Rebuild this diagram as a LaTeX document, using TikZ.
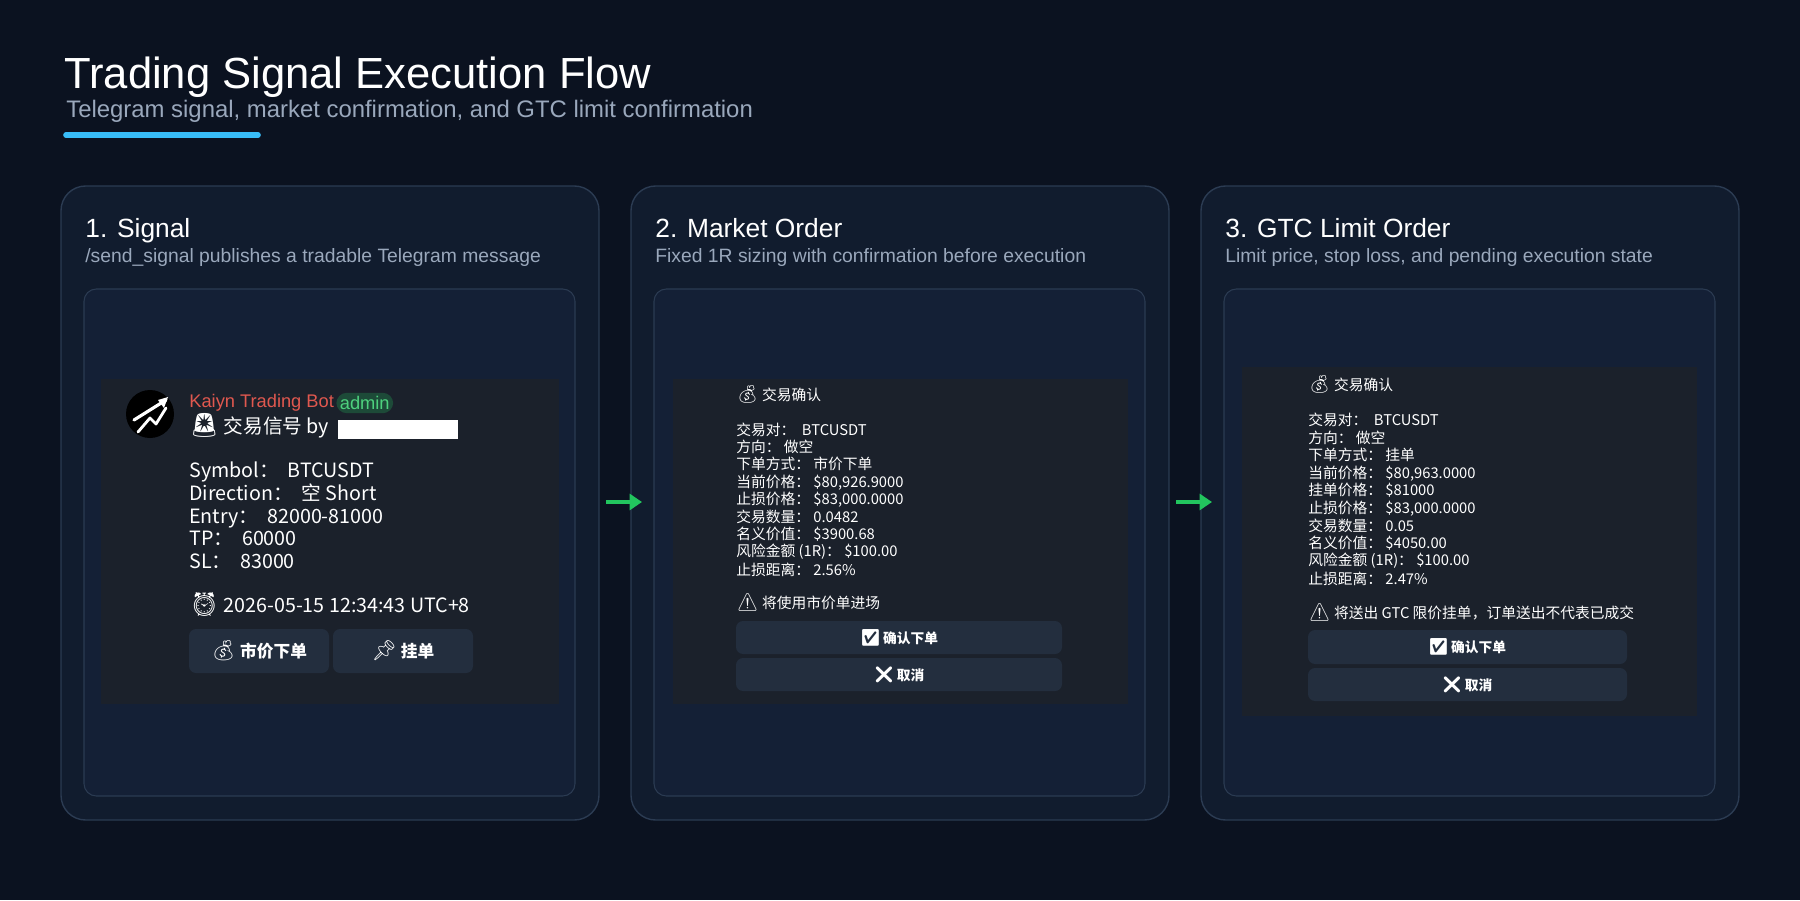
\documentclass[tikz,border=0pt]{standalone}
\usepackage{fontspec}
\setmainfont{Liberation Sans}
\newfontfamily\cjk{Noto Sans CJK SC}
\newfontfamily\emo{Noto Emoji}
\usetikzlibrary{arrows.meta}
\definecolor{bg}{HTML}{0B1220}
\definecolor{panel}{HTML}{111C2E}
\definecolor{pborder}{HTML}{2B3B52}
\definecolor{inner}{HTML}{142036}
\definecolor{msg}{HTML}{1B212B}
\definecolor{btn}{HTML}{232E3E}
\definecolor{subc}{HTML}{9AA8BC}
\definecolor{accent}{HTML}{38BDF8}
\definecolor{arr}{HTML}{22C55E}
\definecolor{botred}{HTML}{E0584F}
\newcommand{\fs}[1]{\fontsize{#1}{#1}\selectfont}
\newcommand{\emj}[1]{{\emo\fontsize{1.2em}{1em}\selectfont #1}}
\tikzset{
 panelbox/.style={draw=pborder,fill=panel,rounded corners=14pt,line width=0.8pt},
 innerbox/.style={draw=pborder,fill=inner,rounded corners=7pt,line width=0.6pt},
 msgbox/.style={fill=msg},
 btnbox/.style={fill=btn,rounded corners=4pt},
 ptitle/.style={anchor=base west,text=white,font=\fs{15pt},inner sep=0},
 psub/.style={anchor=base west,text=subc,font=\fs{11pt},inner sep=0},
 txtA/.style={anchor=base west,text=white,font=\cjk\fs{11.2pt},inner sep=0},
 txtB/.style={anchor=base west,text=white,font=\cjk\fs{8.4pt},inner sep=0},
 flow/.style={draw=arr,line width=2.2pt,-{Triangle[length=7pt,width=9pt]}},
}
\begin{document}
\begin{tikzpicture}[x=0.02cm,y=-0.02cm]
\fill[bg] (0,0) rectangle (1800,900);
\useasboundingbox (0,0) rectangle (1800,900);
\node[anchor=west,text=white,font=\fs{24.8pt},inner sep=0] (title) at (64,77) {Trading Signal Execution Flow};
\node[anchor=west,text=subc,font=\fs{13.6pt},inner sep=0] (sub) at (66,111) {Telegram signal, market confirmation, and GTC limit confirmation};
\draw[accent,line width=3.2pt,line cap=round] (66,135) -- (258,135);
% panels
\foreach \x/\n in {61/p1,631/p2,1201/p3}{
 \draw[panelbox] (\x,186) rectangle ++(538,634);
 \draw[innerbox] (\x+23,289) rectangle ++(491,507);
}
\node[ptitle] (t1) at (85,237) {1. Signal};
\node[psub] (s1) at (85,262) {/send\_signal publishes a tradable Telegram message};
\node[ptitle] (t2) at (655,237) {2. Market Order};
\node[psub] (s2) at (655,262) {Fixed 1R sizing with confirmation before execution};
\node[ptitle] (t3) at (1225,237) {3. GTC Limit Order};
\node[psub] (s3) at (1225,262) {Limit price, stop loss, and pending execution state};
% arrows
\coordinate (a1s) at (606,502); \coordinate (a1e) at (642,502);
\coordinate (a2s) at (1176,502); \coordinate (a2e) at (1212,502);
\draw[flow] (a1s) -- (a1e);
\draw[flow] (a2s) -- (a2e);
% message 1
\fill[msgbox] (101,379) rectangle (559,704);
\fill[black] (150,414) circle (24);
\draw[white,line width=1.6pt,line cap=round,line join=round] (138,432) -- (150,418) -- (156,424) -- (166,408);
\draw[white,line width=1.8pt,line cap=round] (134,420) -- (166,400);
\fill[white] (168,397) -- (158,400) -- (164,408) -- cycle;
\node[anchor=west,text=botred,font=\fs{10.4pt},inner sep=0] (bot) at (189,403) {Kaiyn Trading Bot};
\node[anchor=west,fill=arr!25!msg,text=arr!80!white,font=\fs{10.4pt},rounded corners=6pt,inner sep=2pt] (adm) at ([xshift=1pt]bot.east) {admin};
\node[txtA] (hd) at (189,433) {\emj{🚨} 交易信号 by};
\fill[white] ([xshift=5pt]hd.east |- 0,420) rectangle (458,439);
\node[txtA] (l1) at (189,477) {Symbol：\ \ BTCUSDT};
\node[txtA] (l2) at (189,500) {Direction：\ \ 空 Short};
\node[txtA] (l3) at (189,523) {Entry：\ \ 82000-81000};
\node[txtA] (l4) at (189,545) {TP：\ \ 60000};
\node[txtA] (l5) at (189,568) {SL：\ \ 83000};
\node[txtA] (l6) at (189,612) {\emj{⏰} 2026-05-15 12:34:43 UTC+8};
\fill[btnbox] (189,629) rectangle (329,673);
\fill[btnbox] (333,629) rectangle (473,673);
\node[text=white,font=\cjk\fs{9.5pt}\bfseries] (b1) at (259,651) {\emj{💰} 市价下单};
\node[text=white,font=\cjk\fs{9.5pt}\bfseries] (b2) at (403,651) {\emj{📌} 挂单};
% message 2
\fill[msgbox] (673,379) rectangle (1128,704);
\node[txtB] (m0) at (736,400) {\emj{💰}\ 交易确认};
\foreach \yy/\t in {431/{交易对：\ \ BTCUSDT},448/{方向：\ 做空},465/{下单方式：\ 市价下单},483/{当前价格：\ \$80,926.9000},500/{止损价格：\ \$83,000.0000},518/{交易数量：\ 0.0482},535/{名义价值：\ \$3900.68},552/{风险金额 (1R)：\ \$100.00},571/{止损距离：\ 2.56\%}}
 \node[txtB] at (736,\yy+4) {\t};
\node[txtB] (w2) at (736,608) {\emj{⚠}\ 将使用市价单进场};
\fill[btnbox] (736,621) rectangle (1062,654);
\fill[btnbox] (736,658) rectangle (1062,691);
\node[text=white,font=\cjk\fs{7.8pt}\bfseries] (c2) at (899,638) {\emj{✅}\,确认下单};
\node[text=white,font=\cjk\fs{7.8pt}\bfseries] (x2) at (899,675) {\emj{❌}\,取消};
% message 3
\fill[msgbox] (1242,367) rectangle (1697,716);
\node[txtB] (n0) at (1308,390) {\emj{💰}\ 交易确认};
\foreach \yy/\t in {421/{交易对：\ \ BTCUSDT},439/{方向：\ 做空},456/{下单方式：\ 挂单},474/{当前价格：\ \$80,963.0000},491/{挂单价格：\ \$81000},509/{止损价格：\ \$83,000.0000},527/{交易数量：\ 0.05},544/{名义价值：\ \$4050.00},561/{风险金额 (1R)：\ \$100.00},580/{止损距离：\ 2.47\%}}
 \node[txtB] at (1308,\yy+4) {\t};
\node[txtB] (w3) at (1308,618) {\emj{⚠}\ 将送出 GTC 限价挂单，订单送出不代表已成交};
\fill[btnbox] (1308,630) rectangle (1627,664);
\fill[btnbox] (1308,668) rectangle (1627,701);
\node[text=white,font=\cjk\fs{7.8pt}\bfseries] (c3) at (1467,647) {\emj{✅}\,确认下单};
\node[text=white,font=\cjk\fs{7.8pt}\bfseries] (x3) at (1467,685) {\emj{❌}\,取消};
\end{tikzpicture}
\end{document}
